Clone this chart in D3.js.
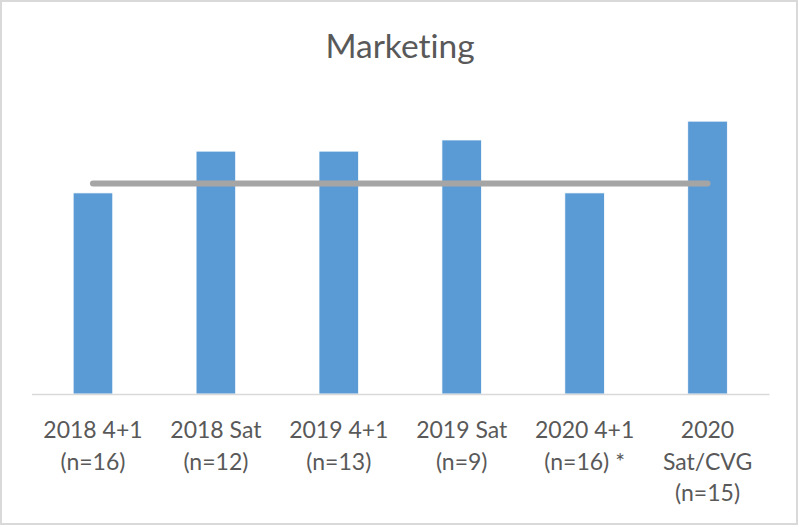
<!DOCTYPE html>
<html>
<head>
<meta charset="utf-8">
<script src="https://cdn.jsdelivr.net/npm/d3@7"></script>
<style>
  html, body { margin: 0; padding: 0; background: #fff; }
  svg { display: block; }
  text { font-variant-ligatures: none; font-feature-settings: "liga" 0, "clig" 0; }
</style>
</head>
<body>
<svg id="chart" width="799" height="527"></svg>
<script>
// ---- data ----
const title = "Marketing";
const categories = ["2018 4+1", "2018 Sat", "2019 4+1", "2019 Sat", "2020 4+1", "2020 Sat/CVG"];
const tickLabels = [
  ["2018 4+1", "(n=16)"],
  ["2018 Sat", "(n=12)"],
  ["2019 4+1", "(n=13)"],
  ["2019 Sat", "(n=9)"],
  ["2020 4+1", "(n=16) *"],
  ["2020", "Sat/CVG", "(n=15)"]
];
const barValues = [3.42, 4.13, 4.13, 4.32, 3.42, 4.64];
const benchmarkValues = [3.58, 3.58, 3.58, 3.58, 3.58, 3.58];
const yDomain = [0, 5];

// ---- drawing ----
const svg = d3.select("#chart");
const W = 799, H = 527;

// outer chart border
svg.append("rect")
  .attr("x", 1).attr("y", 1)
  .attr("width", W - 3).attr("height", H - 4)
  .attr("fill", "#fff")
  .attr("stroke", "#d9d9d9").attr("stroke-width", 2);

const x = d3.scaleBand()
  .domain(categories)
  .range([31.5, 769])
  .paddingInner(0.678)
  .paddingOuter(0.339);

const y = d3.scaleLinear().domain(yDomain).range([394, 100]);

// title
svg.append("text")
  .attr("x", 400).attr("y", 58)
  .attr("text-anchor", "middle")
  .attr("font-family", "Lato, 'Open Sans', sans-serif")
  .attr("font-size", 33.5)
  .attr("fill", "#595959")
  .text(title);

// bars
svg.append("g").selectAll("rect")
  .data(barValues)
  .join("rect")
  .attr("x", (d, i) => x(categories[i]))
  .attr("width", x.bandwidth())
  .attr("y", d => y(d))
  .attr("height", d => y(0) - y(d))
  .attr("fill", "#5b9bd5")
  .attr("stroke", "#ffffff")
  .attr("stroke-width", 0.75);

// x axis
const xAxis = d3.axisBottom(x).tickSize(0).tickFormat("");
const gx = svg.append("g")
  .attr("transform", `translate(0,${y(0)})`)
  .call(xAxis);
gx.select(".domain").attr("stroke", "#d9d9d9").attr("stroke-width", 1.5);

gx.selectAll(".tick").each(function(d, i) {
  const t = d3.select(this).append("text")
    .attr("text-anchor", "middle")
    .attr("font-family", "Lato, 'Open Sans', sans-serif")
    .attr("font-size", 23)
    .attr("fill", "#595959");
  tickLabels[i].forEach((line, j) => {
    t.append("tspan")
      .attr("x", 0)
      .attr("y", 44 + j * 31.5)
      .text(line);
  });
});

// benchmark line
const line = d3.line()
  .x((d, i) => x(categories[i]) + x.bandwidth() / 2)
  .y(d => y(d));
svg.append("path")
  .datum(benchmarkValues)
  .attr("d", line)
  .attr("fill", "none")
  .attr("stroke", "#a5a5a5")
  .attr("stroke-width", 6)
  .attr("stroke-linecap", "round")
  .attr("stroke-linejoin", "round");
</script>
</body>
</html>
